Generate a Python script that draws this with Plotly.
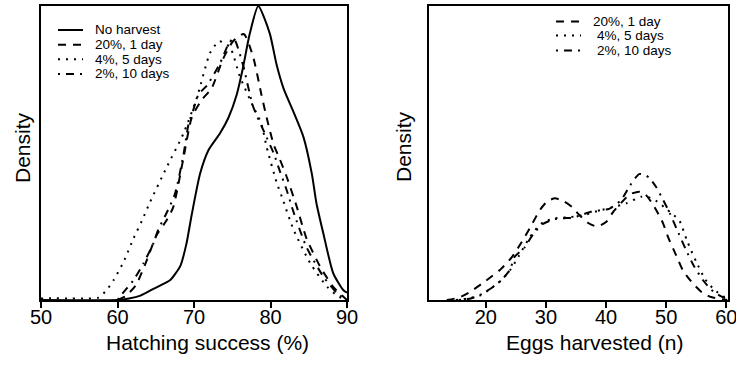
import plotly.graph_objects as go

W, H = 736, 367

# ---------------- Data ----------------
# Left panel: hatching success (%) vs relative density
hs_none_x = [50, 60, 61.5, 63, 64.5, 66, 66.9, 68.2, 69.0, 69.7, 70.8, 71.9, 73.4, 74.5, 75.6,
             76.4, 77.3, 78.4, 79.9, 80.8, 81.7, 83.0, 84.3, 85.4, 86.0, 86.9, 88.2, 89.5, 90]
hs_none_y = [0, 0, 0.005, 0.015, 0.035, 0.055, 0.068, 0.115, 0.19, 0.29, 0.43, 0.51, 0.567, 0.62, 0.70,
             0.79, 0.907, 1.0, 0.907, 0.80, 0.72, 0.64, 0.555, 0.43, 0.33, 0.227, 0.091, 0.034, 0.025]

hs_20_x = [60, 61, 62.4, 63.6, 65.1, 66.4, 67.3, 68.6, 69.7, 71.0, 72.3, 73.8, 75.1, 76.5,
           77.7, 78.8, 79.5, 80.4, 81.2, 82.1, 83.4, 84.7, 86.5, 88.2, 90]
hs_20_y = [0, 0.012, 0.05, 0.12, 0.22, 0.27, 0.317, 0.48, 0.62, 0.68, 0.72, 0.82, 0.88, 0.905,
           0.83, 0.70, 0.62, 0.53, 0.48, 0.42, 0.32, 0.21, 0.113, 0.045, 0]

hs_4_x = [50, 52, 54, 56, 57.5, 58.6, 59.5, 60.8, 62.1, 63.2, 64.2, 66.4, 68.6, 70.4, 72.1, 73.3,
          74.7, 76.0, 77.7, 78.8, 79.5, 80.8, 81.5, 83.0, 85.2, 87.4, 89.0, 90]
hs_4_y = [0.005, 0.006, 0.005, 0.005, 0.008, 0.034, 0.068, 0.13, 0.21, 0.27, 0.33, 0.45, 0.565, 0.69,
          0.84, 0.88, 0.86, 0.76, 0.66, 0.60, 0.52, 0.40, 0.35, 0.24, 0.125, 0.045, 0.01, 0.003]

hs_2_x = [60, 60.3, 62.1, 63.4, 64.7, 65.3, 66.4, 67.5, 68.6, 69.3, 69.9, 70.6, 71.7, 73.4, 74.5,
          75.2, 76.4, 77.7, 79.2, 80.4, 81.2, 82.1, 83.0, 84.7, 86.9, 88.7, 90]
hs_2_y = [0, 0.011, 0.068, 0.125, 0.193, 0.238, 0.295, 0.36, 0.49, 0.60, 0.646, 0.70, 0.73, 0.805, 0.87,
          0.89, 0.80, 0.66, 0.57, 0.50, 0.44, 0.375, 0.30, 0.18, 0.08, 0.023, 0]

# Right panel: eggs harvested (n) vs relative density
eh_20_x = [13.5, 15.5, 17.4, 20.0, 22.5, 24.3, 26.0, 27.6, 29.0, 30.2, 31.5, 33.0, 34.3, 35.5, 37.1,
           38.5, 40.0, 41.2, 42.5, 44.0, 45.6, 46.5, 47.5, 48.5, 49.5, 50.3, 51.7, 52.8, 54.5, 56.0,
           57.5, 59.0, 60.2]
eh_20_y = [0, 0.008, 0.028, 0.065, 0.105, 0.145, 0.198, 0.255, 0.306, 0.335, 0.346, 0.335, 0.317, 0.29, 0.261,
           0.25, 0.265, 0.30, 0.33, 0.36, 0.368, 0.36, 0.334, 0.30, 0.26, 0.215, 0.15, 0.10, 0.055, 0.025,
           0.01, 0.003, 0]

eh_4_x = [15, 17, 19, 20.9, 22.6, 24.0, 25.5, 27.2, 28.5, 29.6, 31.5, 34.0, 36.5, 39.0, 41.0, 43.4,
          45.8, 47.0, 48.5, 50.0, 51.2, 52.2, 53.5, 55.0, 56.5, 58.0, 59.5, 60.2]
eh_4_y = [0, 0.005, 0.015, 0.04, 0.068, 0.10, 0.15, 0.21, 0.245, 0.265, 0.278, 0.282, 0.29, 0.305, 0.315, 0.329,
          0.351, 0.35, 0.335, 0.31, 0.29, 0.27, 0.20, 0.13, 0.07, 0.035, 0.012, 0.005]

eh_2_x = [15.5, 17.5, 19.0, 20.9, 22.6, 24.0, 24.8, 26.5, 28.0, 29.6, 31.5, 33.0, 34.5, 36.0, 37.5,
          39.0, 40.5, 42.5, 44.0, 45.5, 46.5, 47.2, 48.3, 49.5, 50.6, 52.0, 53.3, 54.5, 56.1, 57.5,
          58.9, 60.2]
eh_2_y = [0, 0.005, 0.017, 0.04, 0.068, 0.102, 0.147, 0.18, 0.228, 0.26, 0.275, 0.278, 0.28, 0.29, 0.30,
          0.305, 0.31, 0.34, 0.39, 0.428, 0.425, 0.415, 0.385, 0.34, 0.295, 0.23, 0.17, 0.12, 0.068, 0.035,
          0.015, 0.003]

left_ticks = [50, 60, 70, 80, 90]
right_ticks = [20, 30, 40, 50, 60]

left_names = ["No harvest", "20%, 1 day", "4%, 5 days", "2%, 10 days"]
right_names = ["20%, 1 day", "4%, 5 days", "2%, 10 days"]

# ---------------- Styles ----------------
FONT = "Liberation Sans, Arial, Helvetica, sans-serif"
LW = 2
DASH = {
    "No harvest": "solid",
    "20%, 1 day": "8px,7px",
    "4%, 5 days": "2px,6px",
    "2%, 10 days": "2px,6px,8px,6px",
}


def px(x):
    return x / W


def py(y):
    return 1 - y / H


fig = go.Figure()

left_series = [(hs_none_x, hs_none_y), (hs_20_x, hs_20_y), (hs_4_x, hs_4_y), (hs_2_x, hs_2_y)]
for name, (xs, ys) in zip(left_names, left_series):
    fig.add_trace(go.Scatter(x=xs, y=ys, mode="lines", name=name, showlegend=False,
                             line=dict(color="black", width=LW, dash=DASH[name],
                                       shape="spline", smoothing=0.6),
                             xaxis="x", yaxis="y"))

right_series = [(eh_20_x, eh_20_y), (eh_4_x, eh_4_y), (eh_2_x, eh_2_y)]
for name, (xs, ys) in zip(right_names, right_series):
    fig.add_trace(go.Scatter(x=xs, y=ys, mode="lines", name=name, showlegend=False,
                             line=dict(color="black", width=LW, dash=DASH[name],
                                       shape="spline", smoothing=0.6),
                             xaxis="x2", yaxis="y2"))

ydom = [py(300), py(6)]
axis_common = dict(showline=True, linecolor="black", linewidth=1.5, mirror=True,
                   showgrid=False, zeroline=False, automargin=False)
xtick_common = dict(ticks="outside", ticklen=6, tickwidth=1.5, tickcolor="black",
                    ticklabelstandoff=-8, ticklabeloverflow="allow",
                    tickfont=dict(size=20, family=FONT, color="black"))

fig.update_layout(
    width=W, height=H,
    margin=dict(l=0, r=0, t=0, b=0),
    paper_bgcolor="white", plot_bgcolor="white",
    showlegend=False,
    font=dict(family=FONT, color="black"),
    xaxis=dict(domain=[px(41), px(347)], range=[50, 90], tickvals=left_ticks,
               **xtick_common, **axis_common),
    yaxis=dict(domain=ydom, range=[0, 1.0], showticklabels=False, ticks="", **axis_common),
    xaxis2=dict(domain=[px(429), px(727.5)], range=[10.55, 60.2], tickvals=right_ticks,
                anchor="y2", **xtick_common, **axis_common),
    yaxis2=dict(domain=ydom, range=[0, 1.0], showticklabels=False, ticks="", anchor="x2",
                **axis_common),
)

annotations = []
# axis titles
annotations.append(dict(text="Hatching success (%)", x=px(207), y=py(342), xref="paper", yref="paper",
                        xanchor="center", yanchor="middle", showarrow=False,
                        font=dict(size=21, family=FONT, color="black")))
annotations.append(dict(text="Eggs harvested (n)", x=px(594), y=py(342), xref="paper", yref="paper",
                        xanchor="center", yanchor="middle", showarrow=False,
                        font=dict(size=21, family=FONT, color="black")))
annotations.append(dict(text="Density", x=px(23), y=py(148), xref="paper", yref="paper",
                        xanchor="center", yanchor="middle", showarrow=False, textangle=-90,
                        font=dict(size=21, family=FONT, color="black")))
annotations.append(dict(text="Density", x=px(403), y=py(147), xref="paper", yref="paper",
                        xanchor="center", yanchor="middle", showarrow=False, textangle=-90,
                        font=dict(size=21, family=FONT, color="black")))

shapes = []
# left legend
left_rows = [30, 44.7, 59.3, 74]
for name, yy in zip(left_names, left_rows):
    shapes.append(dict(type="line", xref="paper", yref="paper", x0=px(58), x1=px(83),
                       y0=py(yy), y1=py(yy),
                       line=dict(color="black", width=LW, dash=DASH[name])))
    annotations.append(dict(text=name, x=px(93), y=py(yy), xref="paper", yref="paper",
                            xanchor="left", yanchor="middle", showarrow=False,
                            font=dict(size=13.5, family=FONT, color="black")))
# right legend
right_rows = [21.5, 35.5, 50.5]
right_text_x = [591, 595, 595]
for name, yy, tx in zip(right_names, right_rows, right_text_x):
    shapes.append(dict(type="line", xref="paper", yref="paper", x0=px(556), x1=px(581),
                       y0=py(yy), y1=py(yy),
                       line=dict(color="black", width=LW, dash=DASH[name])))
    annotations.append(dict(text=name, x=px(tx), y=py(yy), xref="paper", yref="paper",
                            xanchor="left", yanchor="middle", showarrow=False,
                            font=dict(size=13.5, family=FONT, color="black")))

fig.update_layout(annotations=annotations, shapes=shapes)

fig.write_html("out.html")
